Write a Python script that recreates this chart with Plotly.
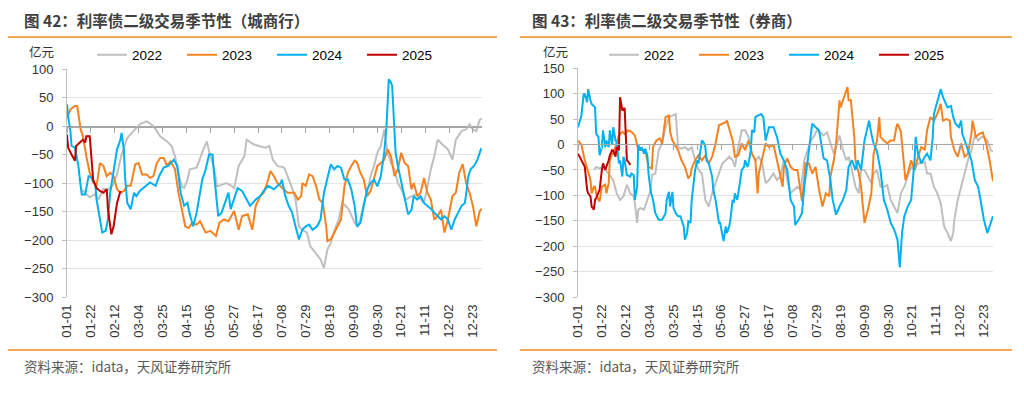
import plotly.graph_objects as go

# ---------------- data ----------------
TICK_DAYS = [0, 21, 42, 63, 84, 105, 126, 147, 168, 189, 210, 231, 252, 273, 294, 315, 336, 357]
TICK_LABELS = ["01-01", "01-22", "02-12", "03-04", "03-25", "04-15", "05-06", "05-27", "06-17",
               "07-08", "07-29", "08-19", "09-09", "09-30", "10-21", "11-11", "12-02", "12-23"]
YEARS = ["2022", "2023", "2024", "2025"]
COLORS = ["#BFBFBF", "#F58220", "#00B0F0", "#C00000"]

# Left panel: 城商行
L2022_days = [13,16,20,24,28,32,36,40,44,48,53,58,64,70,76,82,88,92,95,98,101,103,106,108,114,120,123,126,129,132,
              135,140,144,147,151,156,158,164,170,175,178,181,185,191,194,198,201,204,207,211,214,219,223,226,229,232,
              236,239,242,245,248,253,256,258,261,264,267,270,273,276,279,280,282,285,288,291,294,298,303,307,311,314,
              317,320,323,326,330,335,339,342,347,351,354,357,360,363,365]
L2022_vals = [-112,-118,-125,-120,-128,-110,-112,-105,-85,-50,-21,-10,3,8,0,-18,-27,-35,-53,-82,-106,-109,-94,-76,-73,
              -41,-27,-53,-70,-106,-104,-100,-104,-109,-70,-53,-24,-32,-36,-38,-35,-59,-70,-73,-88,-109,-129,-176,-182,
              -187,-211,-223,-234,-249,-217,-205,-179,-164,-135,-140,-147,-170,-176,-164,-135,-117,-88,-70,-47,-35,-6,
              -18,-47,-65,-76,-100,-111,-129,-123,-120,-129,-135,-106,-76,-53,-24,-32,-41,-59,-24,-9,-6,3,-6,-9,11,13]

L2023_days = [0,3,7,9,12,14,17,20,23,26,29,32,35,38,41,44,47,50,53,56,60,63,66,70,73,76,79,82,85,88,91,95,98,101,104,
              107,110,114,117,122,126,131,134,138,142,147,151,154,159,163,166,170,173,176,179,182,185,188,191,194,200,
              203,206,207,210,213,216,219,222,225,228,229,232,235,238,241,244,247,250,253,255,258,261,264,267,270,273,
              276,279,282,285,288,291,294,297,300,303,305,308,311,314,317,320,323,326,329,332,335,339,342,345,348,351,
              354,357,360,363,365]
L2023_vals = [14,29,35,35,-6,-18,-53,-82,-99,-105,-65,-70,-88,-82,-88,-111,-117,-114,-105,-105,-67,-65,-85,-85,-91,-88,
              -65,-56,-56,-70,-62,-76,-117,-146,-176,-179,-170,-173,-167,-187,-184,-193,-170,-164,-167,-149,-182,-158,
              -155,-182,-140,-123,-117,-100,-79,-88,-100,-106,-111,-117,-117,-129,-123,-100,-105,-85,-88,-105,-129,-135,
              -176,-202,-199,-187,-176,-164,-106,-82,-70,-61,-64,-82,-94,-123,-114,-94,-70,-65,-59,-41,-53,-88,-76,-47,
              -65,-70,-111,-100,-123,-117,-91,-117,-129,-164,-158,-147,-187,-164,-123,-117,-82,-67,-100,-117,-140,-176,
              -149,-145]

L2024_days = [0,1,3,4,7,10,12,13,16,19,22,25,26,29,31,34,36,38,41,44,47,48,50,51,53,56,59,61,64,69,73,78,81,85,89,94,97,
              100,103,106,108,111,114,119,122,125,128,129,131,133,136,139,142,144,147,150,154,158,161,166,170,173,177,
              182,185,188,189,192,195,198,201,204,207,210,213,216,220,223,226,229,232,235,238,241,244,247,250,253,255,
              258,261,264,267,270,273,276,279,281,283,285,286,288,289,291,294,297,300,303,305,308,311,314,317,320,323,
              326,329,332,335,338,341,344,347,350,353,355,358,361,364,365]
L2024_vals = [38,17,-9,-35,-38,-70,-105,-120,-120,-88,-91,-105,-129,-161,-187,-184,-164,-117,-82,-41,-24,-12,-41,-88,
              -135,-146,-117,-123,-114,-105,-99,-105,-88,-73,-70,-59,-70,-117,-140,-135,-155,-176,-152,-94,-76,-50,-50,
              -76,-117,-158,-152,-135,-117,-146,-129,-109,-114,-129,-140,-129,-123,-114,-105,-111,-105,-100,-94,-123,
              -140,-152,-176,-199,-182,-176,-173,-182,-176,-164,-117,-94,-67,-76,-70,-73,-94,-94,-111,-140,-176,-170,
              -140,-111,-100,-94,-106,-88,-47,0,82,76,70,0,-47,-70,-100,-129,-155,-147,-123,-129,-123,-135,-140,-145,
              -152,-158,-164,-158,-164,-182,-164,-152,-140,-135,-88,-76,-70,-59,-41,-43]

L2025_days = [0,1,4,7,8,11,14,16,17,20,22,23,26,29,32,35,36,38,39,41,44,47]
L2025_vals = [-15,-38,-50,-61,-35,-29,-24,-29,-18,-18,-76,-94,-109,-114,-117,-111,-146,-182,-190,-176,-135,-114]

# Right panel: 券商
R2022_days = [14,16,19,22,28,31,34,37,40,43,46,49,50,52,53,55,58,61,64,65,68,71,74,77,80,83,86,87,88,91,94,97,100,103,
              106,109,112,115,118,121,124,127,130,133,136,138,141,144,147,150,153,156,159,162,165,168,172,175,178,181,
              184,187,190,193,196,199,202,205,208,210,213,216,219,222,225,228,230,233,236,238,241,244,247,249,252,255,
              258,260,263,266,269,272,275,278,281,284,287,290,293,296,299,302,305,307,310,313,316,319,322,325,328,330,
              331,334,337,340,343,346,349,352,355,357,360,363,365]
R2022_vals = [-50,-44,-47,-44,-60,-70,-96,-109,-102,-79,-96,-102,-115,-154,-128,-125,-128,-109,-89,-60,-57,-11,2,34,54,
              57,60,28,-5,-8,-5,-11,-5,-31,-50,-57,-109,-122,-96,-76,-57,-37,-31,-24,-31,-44,-5,28,28,15,-18,-31,-24,
              -37,-76,-70,-57,-70,-63,-31,-70,-96,-89,-83,-89,-31,-11,8,18,28,24,18,24,2,-18,2,18,-11,-31,-24,-50,-83,
              -96,-50,-50,-63,-76,-57,-50,-83,-83,-80,-109,-122,-135,-96,-83,-63,-44,-50,-37,-37,-34,-57,-57,-83,-96,
              -115,-161,-174,-190,-174,-148,-109,-83,-57,-31,-11,18,8,15,15,8,-11,-14]

R2023_days = [0,3,6,9,11,12,14,15,16,18,19,21,24,25,27,28,30,31,33,36,39,41,44,47,50,53,56,59,61,62,65,66,69,72,74,77,
              80,81,83,86,88,91,94,97,99,100,103,106,109,112,115,118,121,124,127,130,131,133,136,138,141,144,147,150,
              153,156,158,159,162,165,168,172,175,178,180,181,184,187,190,193,196,197,199,200,203,206,209,212,215,218,
              221,222,225,227,230,231,234,237,238,240,243,244,247,249,250,252,255,258,260,263,265,266,269,272,275,278,
              280,281,284,287,288,290,293,296,299,302,305,307,310,313,316,319,321,324,327,328,331,334,337,340,343,346,
              347,350,353,356,359,362,365]
R2023_vals = [8,-1,-31,-57,-70,-96,-83,-83,-96,-109,-112,-83,-79,-96,-76,-31,-18,-18,-5,18,25,21,28,25,18,-11,-11,-11,
              -31,-44,-47,-5,8,12,2,54,57,25,8,-5,-11,-31,-44,-67,-60,-47,-31,-21,-31,-21,-37,-24,2,38,41,44,47,31,8,
              -24,-21,2,-11,8,-18,-31,-96,-57,-24,2,-5,-1,-31,-63,-83,-44,-27,-44,-50,-50,-96,-112,-70,-37,-37,-57,-44,
              -89,-122,-96,-102,-63,-31,2,87,73,93,113,87,87,15,-31,-57,-83,-109,-154,-128,-96,-18,8,54,15,8,2,8,8,34,
              41,25,-50,-70,-57,-31,-50,-24,-5,-11,28,54,47,60,80,47,50,47,15,-11,-24,2,-24,-18,21,47,15,21,24,2,-31,-72]

R2024_days = [0,2,3,5,6,8,9,11,12,15,16,18,19,21,22,24,25,27,28,30,31,33,34,36,37,39,40,41,43,46,47,49,50,52,53,55,56,
              58,59,61,62,64,65,66,68,71,74,77,78,80,81,83,84,86,88,90,93,94,96,97,99,100,103,105,106,108,109,111,112,
              113,115,118,119,121,122,124,125,127,128,130,131,133,134,136,137,138,140,141,143,144,146,147,149,150,152,
              153,155,156,158,161,163,165,168,172,175,178,181,184,187,190,191,194,197,199,202,205,206,209,212,213,216,
              219,221,222,224,227,230,233,236,238,241,244,246,249,252,255,256,258,260,263,266,269,272,275,278,281,283,
              285,287,290,293,296,297,299,302,305,307,310,312,313,316,319,321,322,325,328,330,332,335,337,338,341,344,
              346,349,352,355,357,360,363,365]
R2024_vals = [34,51,57,99,99,83,109,86,80,73,21,15,-21,-5,28,-5,8,-5,28,-1,34,8,5,-37,-31,-63,-24,-31,-60,-63,-57,-60,
              -109,-83,-1,-11,-5,-18,-8,-21,-57,-93,-102,-109,-135,-148,-148,-135,-109,-93,-122,-93,-125,-135,-141,-141,
              -161,-187,-174,-151,-154,-109,-50,-31,-37,-11,8,2,-5,-31,-37,-63,-89,-109,-128,-154,-154,-174,-190,-161,
              -174,-161,-148,-109,-115,-96,-109,-96,-70,-50,-44,-31,-44,-37,-11,28,24,54,57,60,54,8,34,34,15,-18,-31,
              -50,-109,-122,-158,-148,-135,-83,-31,21,41,34,28,15,-27,-31,-57,-70,-109,-138,-122,-109,-89,-44,-31,-50,
              -31,-50,8,34,47,21,2,-14,-50,-109,-128,-154,-167,-187,-242,-174,-141,-122,-109,-31,15,-18,-37,-24,-18,
              -31,15,60,87,109,93,87,73,76,54,41,34,47,21,2,-18,-31,-70,-83,-122,-148,-174,-154,-141]

R2025_days = [0,3,5,6,8,9,11,12,14,15,16,18,19,21,22,24,25,27,28,30,31,33,34,36,37,38,39,41,42,43,44,46]
R2025_vals = [-18,-31,-37,-44,-89,-96,-102,-122,-128,-109,-105,-96,-89,-50,-37,-50,-44,-31,-21,-11,-12,-24,-5,-11,93,
              80,67,72,8,-31,-33,-40]

LEFT_SERIES = [(L2022_days, L2022_vals), (L2023_days, L2023_vals), (L2024_days, L2024_vals), (L2025_days, L2025_vals)]
RIGHT_SERIES = [(R2022_days, R2022_vals), (R2023_days, R2023_vals), (R2024_days, R2024_vals), (R2025_days, R2025_vals)]

TITLE_L = "图 42：利率债二级交易季节性（城商行）"
TITLE_R = "图 43：利率债二级交易季节性（券商）"
SOURCE = "资料来源：idata，天风证券研究所"
UNIT = "亿元"

# ---------------- layout helpers ----------------
W, H = 1024, 393
def px(x):
    return x / W
def py(y):
    return 1 - y / H

FONT = "Liberation Sans, Arial, Noto Sans CJK SC, sans-serif"
CJK = "Microsoft YaHei, Noto Sans CJK SC, sans-serif"
ORANGE_RULE = "#F08A24"

fig = go.Figure()

for (d, v), name, col in zip(LEFT_SERIES, YEARS, COLORS):
    fig.add_trace(go.Scatter(x=d, y=v, mode="lines", name=name, line=dict(color=col, width=2),
                             xaxis="x", yaxis="y", legend="legend"))
for (d, v), name, col in zip(RIGHT_SERIES, YEARS, COLORS):
    fig.add_trace(go.Scatter(x=d, y=v, mode="lines", name=name, line=dict(color=col, width=2),
                             xaxis="x2", yaxis="y2", legend="legend2"))
# placeholders so the zero-line axes get drawn
fig.add_trace(go.Scatter(x=[None], y=[None], xaxis="x3", yaxis="y", showlegend=False, hoverinfo="skip"))
fig.add_trace(go.Scatter(x=[None], y=[None], xaxis="x4", yaxis="y2", showlegend=False, hoverinfo="skip"))

L_dom = [px(67), px(482)]
R_dom = [px(578), px(993)]
L_ydom = [py(297), py(69)]
R_ydom = [py(297), py(68.3)]

def xaxis_bottom(dom, anchor):
    return dict(domain=dom, anchor=anchor, range=[0, 365], tickmode="array", tickvals=TICK_DAYS,
                ticktext=TICK_LABELS, tickangle=-90, showgrid=False, zeroline=False, showline=False,
                ticks="", tickfont=dict(size=13, color="#333333", family=FONT), ticklabelstandoff=4,
                automargin=False, fixedrange=True)

def xaxis_zero(dom, over, pos):
    return dict(domain=dom, overlaying=over, anchor="free", position=pos, range=[0, 365],
                tickmode="array", tickvals=TICK_DAYS, showticklabels=False, ticks="outside", ticklen=5,
                tickcolor="#A6A6A6", showline=True, linecolor="#A6A6A6", linewidth=1,
                showgrid=False, zeroline=False, automargin=False)

def yaxis(dom, anchor, rng):
    return dict(domain=dom, anchor=anchor, range=rng, dtick=50, tick0=0, showgrid=True, gridcolor="#E4E4E4",
                showline=True, linecolor="#BFBFBF", ticks="outside", ticklen=4, tickcolor="#BFBFBF",
                zeroline=True, zerolinecolor="#A6A6A6", zerolinewidth=1, automargin=False,
                tickfont=dict(size=13, color="#333333", family=FONT), ticklabelstandoff=6)

fig.update_layout(
    width=W, height=H, margin=dict(l=0, r=0, t=0, b=0, pad=0, autoexpand=False),
    paper_bgcolor="white", plot_bgcolor="white",
    font=dict(family=FONT, color="#333333"),
    xaxis=xaxis_bottom(L_dom, "y"),
    xaxis2=xaxis_bottom(R_dom, "y2"),
    xaxis3=xaxis_zero(L_dom, "x", py(126.5)),
    xaxis4=xaxis_zero(R_dom, "x2", py(144.3)),
    yaxis=yaxis(L_ydom, "x", [-300, 100]),
    yaxis2=yaxis(R_ydom, "x2", [-300, 150]),
    legend=dict(orientation="h", x=px(92), y=py(55), xanchor="left", yanchor="middle",
                entrywidth=45, entrywidthmode="pixels", font=dict(size=13.5, color="#000000", family=FONT),
                bgcolor="rgba(0,0,0,0)", traceorder="normal"),
    legend2=dict(orientation="h", x=px(604), y=py(55), xanchor="left", yanchor="middle",
                 entrywidth=45, entrywidthmode="pixels", font=dict(size=13.5, color="#000000", family=FONT),
                 bgcolor="rgba(0,0,0,0)", traceorder="normal"),
    showlegend=True,
)

annotations = []
for x0, title in [(22, TITLE_L), (530, TITLE_R)]:
    annotations.append(dict(text="<b>" + title + "</b>", x=px(x0), y=py(20), xref="paper", yref="paper",
                            xanchor="left", yanchor="middle", showarrow=False,
                            font=dict(size=15.5, color="#404040", family=CJK)))
    annotations.append(dict(text=SOURCE, x=px(x0), y=py(366), xref="paper", yref="paper",
                            xanchor="left", yanchor="middle", showarrow=False,
                            font=dict(size=13.5, color="#595959", family=CJK)))
for xc, yc in [(41, 52), (555, 51.5)]:
    annotations.append(dict(text=UNIT, x=px(xc), y=py(yc), xref="paper", yref="paper",
                            xanchor="center", yanchor="middle", showarrow=False,
                            font=dict(size=12.5, color="#333333", family=CJK)))
fig.update_layout(annotations=annotations)

shapes = []
for x0, x1 in [(8, 497), (520, 1012)]:
    for yy in (37, 350):
        shapes.append(dict(type="line", xref="paper", yref="paper", x0=px(x0), x1=px(x1), y0=py(yy), y1=py(yy),
                           line=dict(color=ORANGE_RULE, width=1.5)))
fig.update_layout(shapes=shapes)

# remove the default 8px page margin so the figure sits at the window's top-left corner
fig.write_html("out.html", config={"displayModeBar": False},
               post_script="document.body.style.margin='0px';")
